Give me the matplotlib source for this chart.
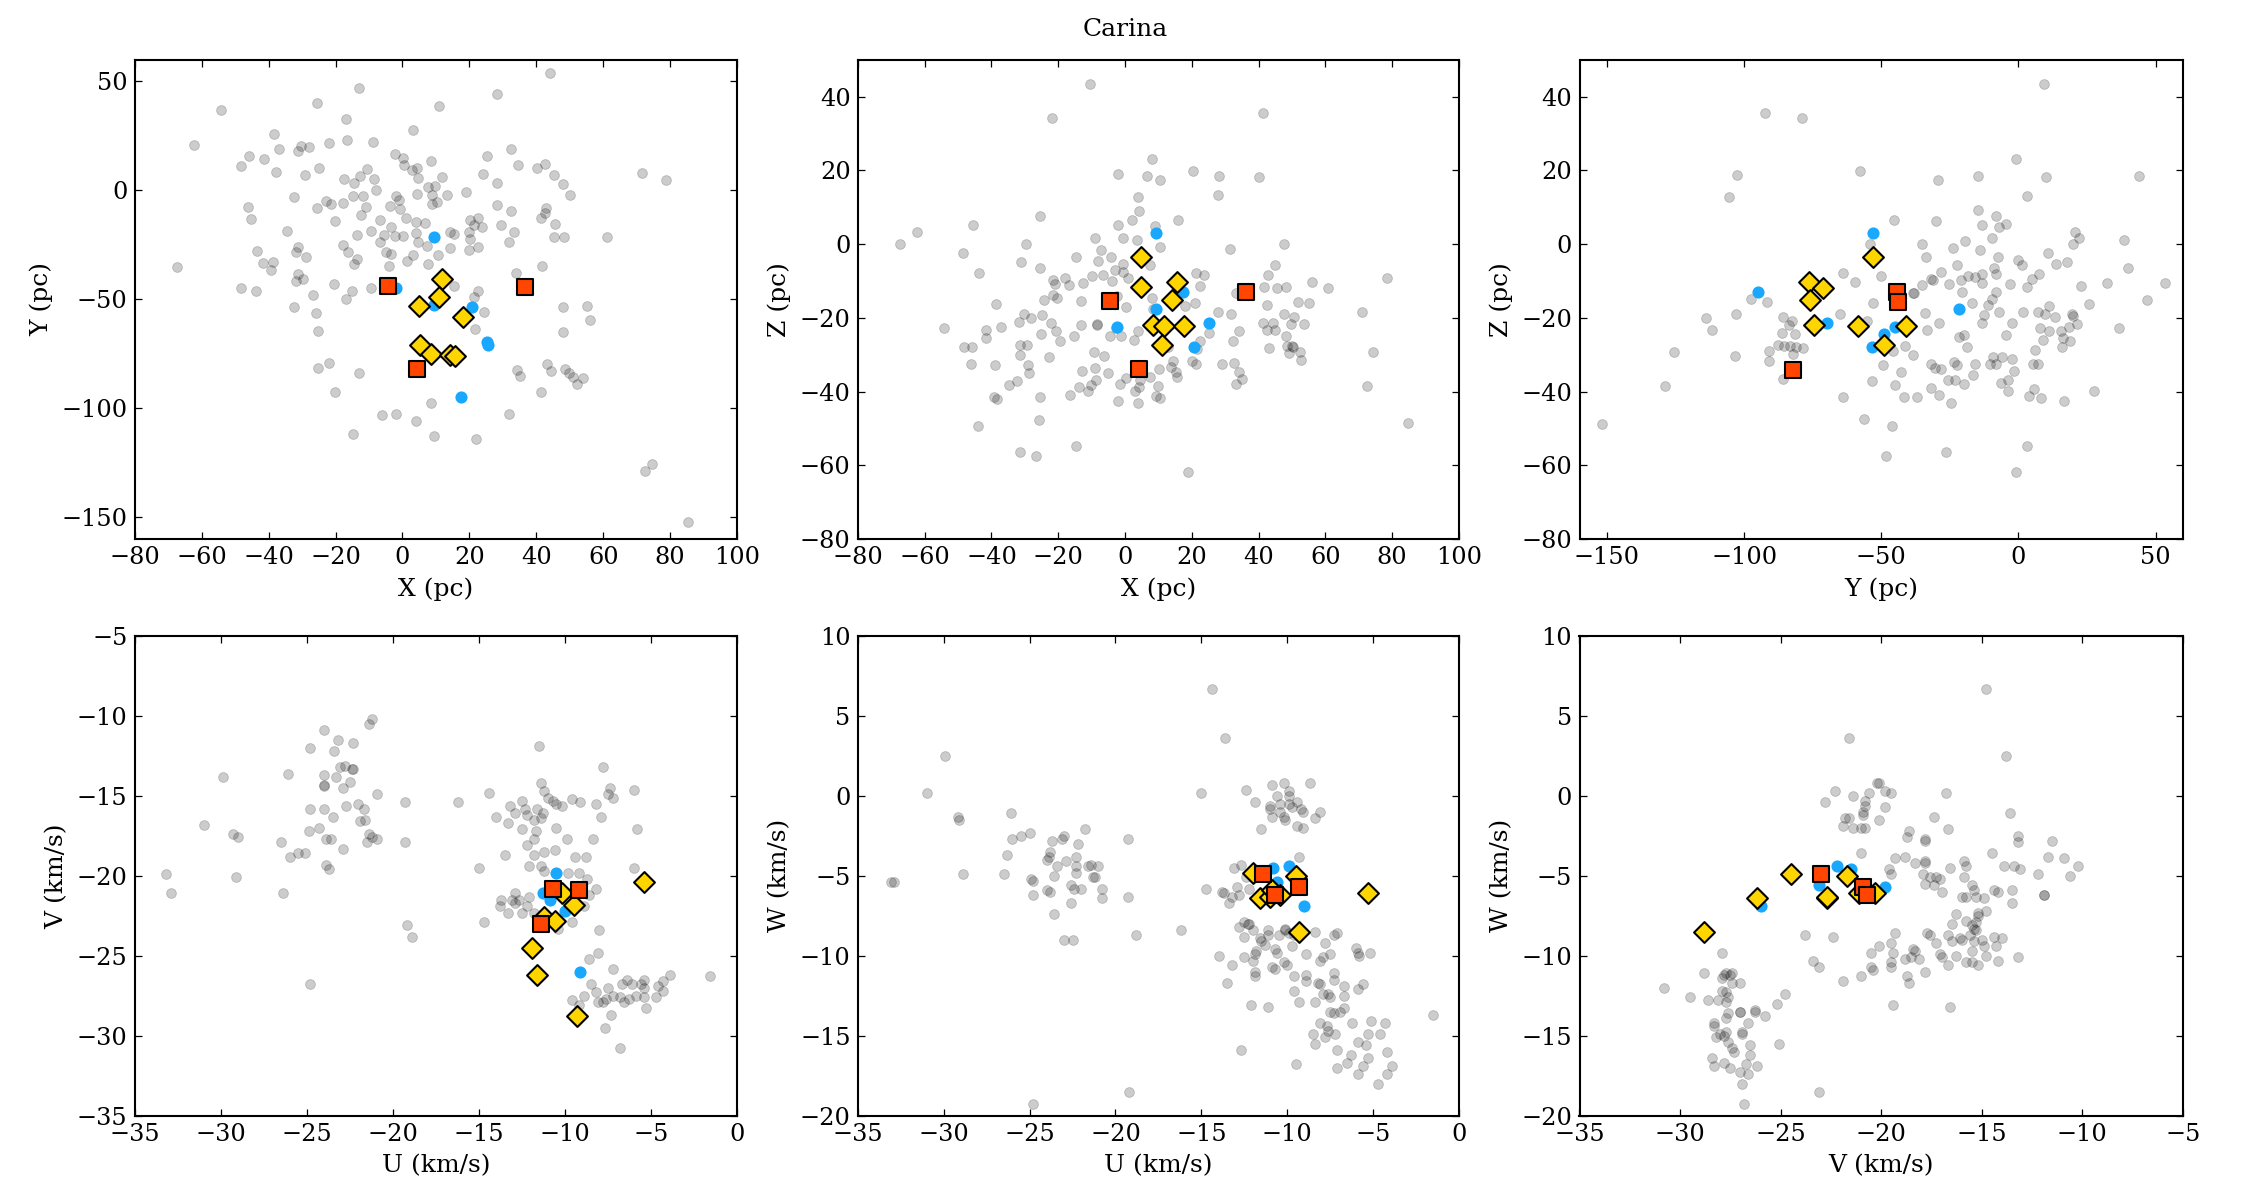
import matplotlib
matplotlib.use("Agg")
import matplotlib.pyplot as plt

plt.rcParams["font.family"] = ["DejaVu Serif"]
plt.rcParams["font.size"] = 12

title = "Carina"

# gray field stars, one list of (x, y) per panel
gray_xy = [(44.1, 53.8), (-12.9, 47.2), (28.3, 44.1), (-54.3, 36.9), (10.8, 38.5), (-25.4, 40.3), (-16.8, 32.8), (3.0, 27.7), (-38.3, 26.1), (-16.7, 23.1),
           (-62.3, 20.8), (-30.4, 20.2), (-28.0, 19.8), (-22.0, 21.6), (-8.9, 22.1), (-37.0, 18.9), (-31.3, 17.9), (-46.0, 15.9), (-41.4, 14.6), (-48.3, 11.0),
           (-37.9, 8.4), (-29.1, 7.2), (-24.8, 10.3), (-10.5, 9.8), (-17.5, 5.4), (-12.6, 6.4), (-8.5, 5.1), (-14.5, 3.3), (-7.8, 0.2), (-2.1, 16.7),
           (0.1, 14.8), (0.5, 11.5), (2.8, 9.5), (4.4, 10.3), (4.5, 5.7), (8.6, 13.3), (11.7, 6.2), (7.7, 1.6), (9.6, 2.1), (4.4, -1.5),
           (8.7, -2.0), (13.4, -2.1), (10.3, -5.4), (8.7, -6.4), (19.0, -0.8), (25.3, 15.7), (32.5, 19.0), (24.2, 7.5), (28.1, 3.3), (34.5, 11.5),
           (40.3, 10.3), (42.6, 12.3), (45.2, 6.9), (48.1, 3.1), (50.0, -2.1), (71.5, 8.0), (78.7, 4.6), (28.1, -6.6), (32.5, -9.3), (42.9, -8.0),
           (42.7, -10.3), (41.5, -12.6), (45.6, -15.4), (45.4, -21.6), (48.3, -21.6), (61.0, -21.3), (29.3, -16.1), (33.2, -19.2), (31.8, -23.6), (22.6, -12.8),
           (23.9, -16.9), (20.2, -13.8), (21.4, -15.9), (20.0, -19.2), (20.2, -22.5), (20.0, -27.4), (22.6, -26.1), (15.5, -20.0), (14.3, -18.9), (14.3, -26.6),
           (6.6, -14.8), (4.0, -14.3), (3.9, -19.5), (4.6, -23.6), (7.4, -25.4), (10.5, -29.5), (1.3, -32.3), (3.0, -29.7), (7.6, -33.9), (-1.1, -4.4),
           (-0.7, -8.5), (-3.8, -7.2), (-2.0, -2.8), (1.1, -12.6), (-3.4, -16.7), (0.1, -20.8), (-2.2, -20.8), (-6.7, -13.4), (-9.5, -18.5), (-5.6, -20.3),
           (-6.7, -23.6), (-4.8, -28.2), (-3.4, -29.0), (-3.9, -34.8), (-10.8, -7.7), (-12.4, -11.3), (-11.7, -2.5), (-14.9, -2.5), (-17.7, -5.6), (-21.4, -6.4),
           (-22.9, -4.8), (-25.4, -8.2), (-20.3, -13.9), (-13.7, -20.5), (-17.8, -24.9), (-16.2, -28.2), (-13.7, -31.5), (-14.5, -33.6), (-32.4, -3.1), (-46.2, -7.7),
           (-45.4, -13.1), (-34.6, -18.7), (-31.3, -26.1), (-31.8, -28.4), (-28.7, -30.7), (-43.6, -27.7), (-41.6, -33.1), (-38.7, -32.8), (-39.2, -36.4), (-67.5, -35.2),
           (-31.3, -38.2), (-31.8, -41.8), (-29.7, -40.5), (-20.4, -42.8), (-9.5, -44.8), (-15.0, -46.2), (-17.0, -50.0), (-26.6, -48.2), (-48.3, -44.6), (-43.9, -46.2),
           (-32.3, -53.3), (-25.7, -56.4), (-25.2, -64.3), (22.6, -46.4), (21.4, -48.7), (15.5, -43.8), (33.8, -38.0), (41.7, -34.8), (24.3, -55.7), (21.7, -63.8),
           (47.9, -53.6), (55.2, -53.0), (56.1, -59.5), (48.1, -65.1), (43.1, -79.5), (44.4, -82.8), (34.2, -82.3), (35.1, -85.2), (48.6, -82.0), (49.8, -83.9),
           (50.9, -85.6), (52.1, -88.9), (53.9, -86.0), (41.5, -92.6), (-22.0, -79.0), (-25.1, -81.5), (-13.1, -83.9), (-20.3, -92.3), (8.4, -97.5), (-6.1, -103.3),
           (-2.0, -102.6), (4.1, -105.7), (31.7, -102.6), (-14.8, -111.8), (9.3, -112.8), (21.9, -114.1), (72.5, -129.0), (74.6, -125.7), (85.2, -152.0)]

gray_xz = [(-10.5, 43.3), (-22.0, 34.3), (41.3, 35.6), (8.1, 23.0), (-2.1, 18.9), (6.5, 18.5), (10.4, 17.4), (20.3, 19.9), (28.1, 18.5), (40.0, 18.2),
           (27.7, 13.2), (4.0, 12.8), (4.3, 9.0), (-25.5, 7.7), (2.0, 6.4), (-2.1, 5.2), (15.9, 6.5), (-45.5, 5.1), (-62.2, 3.2), (-67.5, 0.0),
           (-29.6, 0.0), (-48.4, -2.4), (-9.0, 1.6), (-0.5, 1.7), (3.7, 1.0), (10.6, -0.8), (8.9, 4.8), (-7.1, -1.7), (-4.1, -3.4), (-14.8, -3.4),
           (-8.0, -4.6), (-31.3, -5.0), (-25.5, -6.5), (-43.6, -7.8), (-0.5, -5.3), (7.4, -5.8), (-3.0, -7.0), (-0.6, -7.5), (0.9, -9.2), (-10.0, -8.7),
           (-6.7, -8.4), (-3.8, -10.0), (-21.5, -9.7), (-20.9, -10.8), (-17.9, -9.2), (-16.8, -11.1), (-12.6, -10.6), (-21.7, -13.8), (-20.5, -14.6), (-24.4, -15.2),
           (-13.1, -15.4), (-38.6, -16.2), (0.3, -17.1), (8.1, -14.7), (23.7, -8.4), (22.4, -11.4), (21.1, -16.1), (27.9, -18.3), (31.6, -18.9), (33.2, -13.3),
           (42.7, -8.4), (45.0, -5.8), (47.7, 0.0), (41.6, -11.6), (45.5, -11.9), (48.1, -11.6), (42.6, -16.6), (51.8, -15.8), (55.0, -16.1), (56.0, -10.3),
           (60.8, -11.9), (78.4, -9.1), (71.1, -18.5), (47.7, -19.1), (50.7, -19.8), (41.3, -21.3), (44.4, -21.3), (42.4, -23.4), (45.0, -23.2), (49.7, -21.6),
           (53.6, -21.8), (48.1, -25.0), (48.5, -27.6), (49.9, -27.6), (50.4, -27.8), (49.0, -29.5), (52.3, -29.2), (52.8, -31.4), (43.1, -28.3), (74.4, -29.3),
           (34.2, -23.5), (32.2, -26.3), (32.5, -32.2), (29.0, -32.6), (34.2, -34.8), (34.9, -36.6), (33.2, -38.0), (72.4, -38.5), (84.9, -48.6), (22.4, -26.3),
           (21.6, -28.5), (20.1, -31.6), (21.3, -32.6), (13.0, -28.0), (14.5, -31.6), (15.3, -34.8), (15.5, -36.1), (13.7, -33.4), (10.3, -34.0), (2.7, -26.1),
           (3.9, -23.7), (-1.2, -24.9), (-4.4, -24.9), (-2.6, -22.7), (-8.5, -22.0), (-9.4, -29.3), (-6.3, -30.5), (-9.0, -33.7), (-12.8, -34.4), (-5.0, -35.1),
           (-8.7, -36.8), (-10.2, -38.2), (-13.8, -38.7), (-11.1, -39.8), (-16.4, -40.9), (-1.4, -37.9), (-2.2, -42.6), (0.4, -36.3), (3.1, -39.8), (4.3, -38.7),
           (3.9, -43.0), (7.4, -36.1), (9.8, -38.6), (9.2, -41.1), (10.4, -41.8), (4.7, -34.1), (4.5, -36.8), (-14.8, -54.9), (18.9, -61.7), (-31.4, -56.4),
           (-26.6, -57.6), (-25.9, -47.6), (-44.0, -49.4), (-25.4, -41.4), (-39.2, -41.6), (-38.3, -41.9), (-34.8, -38.2), (-32.5, -37.2), (-28.8, -35.0), (-29.2, -32.9),
           (-38.8, -32.7), (-46.0, -32.5), (-48.3, -27.9), (-45.9, -28.0), (-31.6, -27.4), (-31.4, -30.2), (-29.4, -27.4), (-41.6, -23.4), (-41.6, -25.4), (-37.2, -22.4),
           (-54.2, -22.8), (-31.8, -21.1), (-30.2, -19.0), (-28.2, -20.1), (-24.9, -19.3), (-25.3, -24.4), (-22.9, -30.7), (-22.1, -21.3), (-20.7, -23.7), (-19.5, -26.3),
           (-15.2, -25.0), (-13.2, -22.0), (-8.3, -21.8), (-2.5, -14.0), (-4.7, -15.3), (8.3, -17.7), (18.1, -16.9), (25.1, -24.2), (31.4, -1.4), (21.3, -7.9)]

gray_yz = [(9.5, 43.3), (-92.5, 35.6), (-79.0, 34.3), (-102.5, 18.7), (-57.8, 19.8), (-29.4, 17.3), (-14.8, 18.5), (-1.0, 23.0), (10.0, 18.2), (43.8, 18.4),
           (-105.5, 12.7), (3.0, 13.1), (-45.2, 6.5), (-30.1, 6.3), (-14.9, 9.1), (-8.3, 7.7), (-13.4, 5.1), (-6.9, 4.6), (-4.6, 5.3), (-9.7, 1.6),
           (-19.5, 0.8), (-14.0, -1.6), (-35.3, -0.1), (-33.5, -3.4), (-23.7, -1.2), (20.6, 3.2), (20.0, 0.0), (22.2, 1.5), (10.7, -2.4), (13.7, -5.3),
           (17.9, -5.0), (1.2, -5.7), (-0.1, -4.4), (-7.3, -3.4), (-8.8, -6.6), (-8.0, -8.2), (-3.1, -10.8), (5.1, -9.4), (7.6, -8.0), (3.0, -11.6),
           (32.3, -10.6), (38.5, 1.0), (40.1, -6.6), (53.5, -10.6), (46.8, -15.3), (25.9, -16.2), (23.0, -11.3), (7.2, -18.4), (9.8, -19.1), (13.3, -19.8),
           (11.3, -16.9), (19.7, -18.9), (21.5, -21.6), (18.3, -22.5), (20.0, -19.6), (36.7, -22.7), (1.6, -18.4), (-2.4, -21.3), (-6.9, -18.4), (-12.5, -19.3),
           (-13.3, -21.3), (-8.0, -13.1), (-9.5, -15.0), (-11.0, -16.4), (-17.0, -16.0), (-20.4, -12.9), (-18.2, -8.6), (-21.0, -9.7), (-15.8, -9.0), (-13.3, -10.6),
           (-13.1, -8.0), (-22.2, -5.8), (-25.3, -10.8), (-28.2, -7.7), (-31.9, -9.5), (-31.2, -9.8), (-35.3, -11.1), (-38.3, -13.4), (-28.8, -21.3), (-33.4, -23.4),
           (-34.1, -18.7), (7.9, -22.7), (11.3, -23.7), (9.1, -26.1), (15.5, -23.5), (16.1, -25.4), (18.8, -26.3), (15.8, -28.0), (-4.5, -24.7), (-21.8, -25.2),
           (-20.0, -24.7), (-18.9, -28.0), (6.0, -28.8), (-9.4, -30.7), (-5.8, -30.7), (-2.4, -31.2), (-15.8, -32.4), (-23.5, -31.9), (-22.2, -32.9), (-31.9, -32.4),
           (-30.4, -33.7), (-28.2, -33.8), (-25.6, -36.8), (-23.2, -36.8), (-20.0, -38.0), (-16.7, -35.5), (-1.6, -34.5), (-3.6, -36.8), (-6.3, -37.7), (-10.3, -32.4),
           (-8.0, -32.4), (5.4, -32.6), (7.2, -32.6), (5.8, -39.2), (4.0, -41.3), (8.2, -41.8), (-3.7, -39.8), (16.7, -42.6), (27.6, -39.9), (-31.9, -39.0),
           (-28.9, -40.9), (-24.4, -43.0), (-36.8, -41.4), (-41.6, -41.6), (-44.9, -38.2), (-42.8, -34.6), (-53.4, -37.2), (-49.3, -32.7), (-38.5, -30.2), (-41.3, -27.6),
           (-45.7, -29.0), (-64.1, -41.4), (-56.3, -47.5), (-46.2, -49.4), (-48.4, -57.6), (-26.5, -56.4), (-0.9, -61.7), (3.3, -54.9), (-151.7, -48.7), (-128.9, -38.5),
           (-125.6, -29.3), (-103.4, -30.5), (-90.8, -31.6), (-85.7, -36.5), (-113.9, -20.1), (-111.8, -23.3), (-102.8, -18.9), (-97.5, -14.8), (-91.8, -15.6), (-85.8, -19.8),
           (-83.8, -21.9), (-82.6, -20.8), (-86.0, -24.2), (-81.5, -24.5), (-87.8, -27.3), (-85.6, -27.6), (-83.3, -27.6), (-81.1, -27.9), (-90.8, -29.0), (-82.1, -29.7),
           (-78.5, -28.2), (-65.1, -19.1), (-63.9, -7.9), (-59.5, -10.3), (-49.9, -8.8), (-52.9, -16.0), (-54.2, 0.1), (-55.3, -20.8), (-40.1, -21.8), (-37.9, -13.3)]

gray_uv = [(-21.2, -10.2), (-21.4, -10.5), (-24.0, -10.9), (-23.2, -11.5), (-23.4, -12.2), (-22.3, -11.7), (-24.8, -12.0), (-11.5, -11.9), (-26.1, -13.6), (-29.9, -13.8),
           (-22.8, -13.1), (-23.1, -13.2), (-22.4, -13.3), (-22.3, -13.3), (-24.0, -13.7), (-22.5, -14.1), (-24.0, -14.3), (-24.0, -14.4), (-23.3, -13.8), (-22.9, -14.5),
           (-20.9, -14.9), (-24.8, -15.8), (-24.0, -15.8), (-22.7, -15.6), (-22.0, -15.5), (-21.7, -15.8), (-23.5, -16.3), (-19.3, -15.4), (-16.2, -15.4), (-14.4, -14.8),
           (-7.8, -13.2), (-7.4, -14.5), (-7.2, -15.1), (-7.5, -14.9), (-6.0, -14.6), (-8.2, -15.5), (-7.9, -16.3), (-11.4, -14.2), (-11.2, -14.7), (-11.0, -15.1),
           (-10.7, -15.3), (-10.5, -15.5), (-10.2, -15.6), (-9.6, -15.2), (-9.1, -15.4), (-12.5, -15.3), (-13.2, -15.6), (-12.3, -15.8), (-12.2, -16.2), (-11.6, -15.8),
           (-11.3, -16.1), (-11.4, -16.4), (-12.9, -16.1), (-14.0, -16.3), (-10.5, -17.0), (-11.8, -16.5), (-11.7, -17.2), (-13.3, -16.7), (-12.5, -17.1), (-5.8, -17.1),
           (-9.9, -17.7), (-8.4, -17.7), (-12.2, -18.1), (-11.8, -17.7), (-13.5, -18.7), (-11.8, -18.7), (-11.2, -18.5), (-10.6, -18.4), (-9.4, -18.8), (-8.8, -18.8),
           (-12.1, -19.4), (-15.0, -19.5), (-6.0, -19.5), (-11.4, -19.4), (-11.2, -19.7), (-9.8, -19.8), (-9.2, -19.8), (-8.7, -20.2), (-8.2, -20.8), (-8.6, -21.2),
           (-12.9, -21.1), (-12.1, -21.3), (-13.7, -21.5), (-13.8, -21.9), (-13.1, -21.5), (-12.9, -21.7), (-12.7, -21.5), (-13.3, -22.3), (-12.5, -22.3), (-12.2, -21.9),
           (-11.8, -22.3), (-8.9, -21.9), (-9.6, -22.9), (-14.7, -22.9), (-10.4, -23.3), (-8.0, -23.4), (-8.1, -24.8), (-8.6, -25.2), (-7.2, -25.8), (-8.5, -26.8),
           (-8.9, -27.5), (-9.6, -27.8), (-9.2, -28.1), (-8.2, -27.3), (-8.1, -27.9), (-7.8, -27.9), (-7.6, -27.7), (-7.5, -27.0), (-7.2, -27.5), (-6.8, -27.6),
           (-6.6, -27.9), (-6.3, -27.7), (-6.7, -26.8), (-6.4, -26.5), (-6.1, -26.8), (-5.6, -26.8), (-5.4, -26.5), (-5.4, -27.0), (-5.9, -27.5), (-5.4, -27.6),
           (-4.7, -27.6), (-4.6, -26.9), (-4.3, -27.2), (-4.3, -26.6), (-3.9, -26.2), (-1.6, -26.3), (-5.3, -28.3), (-7.3, -28.7), (-7.7, -29.5), (-6.8, -30.8),
           (-19.2, -23.1), (-18.9, -23.8), (-24.8, -26.8), (-31.0, -16.8), (-29.3, -17.4), (-29.0, -17.6), (-33.2, -19.9), (-32.9, -21.1), (-29.1, -20.1), (-26.4, -21.1),
           (-26.5, -17.9), (-26.0, -18.8), (-25.5, -18.6), (-25.1, -18.6), (-24.9, -17.2), (-24.3, -17.0), (-23.9, -17.7), (-23.6, -17.7), (-22.9, -18.3), (-23.9, -19.3),
           (-23.7, -19.6), (-21.9, -16.6), (-21.6, -16.5), (-21.4, -17.4), (-21.2, -17.6), (-20.9, -17.7), (-21.5, -17.9), (-19.3, -17.9)]

gray_uw = [(-14.4, 6.7), (-13.6, 3.6), (-29.9, 2.5), (-31.0, 0.2), (-15.0, 0.2), (-12.4, 0.4), (-10.9, 0.7), (-10.2, 0.8), (-8.7, 0.8), (-9.9, 0.3),
           (-9.9, 0.0), (-10.6, 0.0), (-10.4, -0.5), (-11.9, -0.4), (-11.0, -0.6), (-11.0, -0.8), (-9.9, -0.5), (-9.7, -0.7), (-9.4, -0.4), (-9.2, -0.8),
           (-9.1, -1.0), (-10.4, -1.0), (-10.2, -1.3), (-10.1, -1.5), (-8.1, -1.0), (-8.4, -1.4), (-10.9, -1.3), (-9.4, -1.9), (-9.1, -2.0), (-11.5, -2.1),
           (-9.3, -3.8), (-29.2, -1.3), (-29.1, -1.5), (-26.1, -1.1), (-26.0, -2.7), (-25.5, -2.5), (-25.0, -2.3), (-21.8, -2.1), (-23.7, -2.8), (-23.1, -2.7),
           (-23.0, -2.5), (-22.2, -3.0), (-26.3, -3.7), (-23.9, -3.8), (-24.0, -4.0), (-23.8, -3.5), (-22.9, -4.1), (-22.3, -3.8), (-23.4, -4.4), (-22.3, -4.4),
           (-22.3, -4.8), (-21.6, -4.4), (-21.4, -4.3), (-21.0, -4.4), (-21.3, -5.1), (-21.2, -5.1), (-28.9, -4.9), (-26.5, -4.9), (-33.1, -5.4), (-32.9, -5.4),
           (-24.9, -5.2), (-24.8, -5.3), (-23.6, -5.0), (-22.6, -5.6), (-22.4, -5.8), (-22.0, -5.8), (-20.8, -5.8), (-24.0, -5.9), (-23.8, -6.0), (-24.8, -6.2),
           (-20.8, -6.4), (-22.6, -6.7), (-23.6, -7.4), (-19.3, -2.7), (-19.3, -6.3), (-23.0, -9.0), (-22.5, -9.0), (-18.8, -8.7), (-16.2, -8.4), (-14.7, -5.8),
           (-19.2, -18.5), (-24.8, -19.3), (-1.5, -13.7), (-13.1, -4.5), (-12.7, -4.3), (-13.8, -6.0), (-13.7, -6.1), (-13.4, -6.7), (-13.2, -6.3), (-12.9, -5.7),
           (-12.8, -6.2), (-12.4, -5.1), (-12.2, -5.8), (-14.0, -10.0), (-13.2, -10.6), (-13.5, -11.7), (-12.8, -8.2), (-12.5, -7.9), (-12.3, -8.0), (-12.2, -8.0),
           (-12.5, -8.8), (-12.0, -8.4), (-11.6, -8.9), (-11.5, -9.1), (-11.3, -9.3), (-11.9, -9.9), (-11.8, -9.7), (-12.5, -10.1), (-12.0, -10.3), (-11.1, -8.4),
           (-11.1, -8.7), (-10.7, -9.6), (-10.6, -9.8), (-10.5, -8.7), (-10.1, -8.4), (-10.1, -8.3), (-9.9, -8.6), (-9.6, -8.7), (-9.7, -9.4), (-10.9, -10.7),
           (-10.7, -10.8), (-10.2, -10.4), (-10.0, -10.6), (-11.9, -11.0), (-11.9, -11.3), (-9.6, -11.3), (-8.9, -9.9), (-8.9, -11.2), (-8.9, -11.6), (-8.4, -8.5),
           (-7.8, -9.2), (-8.1, -10.3), (-7.9, -10.1), (-7.5, -9.9), (-7.3, -8.7), (-7.1, -8.6), (-8.2, -11.7), (-8.1, -11.8), (-7.9, -12.4), (-7.6, -12.4),
           (-7.5, -12.6), (-7.3, -11.1), (-7.3, -11.5), (-8.4, -12.9), (-9.3, -12.9), (-9.6, -12.2), (-12.1, -13.1), (-11.1, -13.2), (-7.5, -13.5), (-7.3, -13.6),
           (-6.9, -13.5), (-6.7, -13.3), (-6.7, -12.5), (-6.7, -11.9), (-6.0, -9.5), (-5.9, -9.8), (-5.8, -10.0), (-5.2, -9.8), (-5.6, -11.8), (-5.9, -12.1),
           (-6.2, -14.2), (-8.1, -14.2), (-7.7, -14.4), (-7.6, -14.7), (-8.5, -14.9), (-7.8, -15.1), (-7.2, -14.9), (-8.4, -15.5), (-7.1, -15.9), (-7.1, -17.0),
           (-6.5, -16.7), (-6.3, -16.2), (-5.9, -15.4), (-5.4, -15.6), (-5.3, -14.9), (-5.9, -17.4), (-5.6, -16.9), (-5.3, -16.4), (-5.1, -14.1), (-4.6, -14.9),
           (-4.3, -14.2), (-4.2, -16.0), (-3.9, -16.9), (-4.2, -17.4), (-4.7, -18.0), (-9.5, -16.8), (-12.7, -15.9)]

gray_vw = [(-14.8, 6.7), (-21.6, 3.6), (-13.8, 2.5), (-20.2, 0.8), (-20.1, 0.8), (-22.3, 0.3), (-21.4, 0.0), (-20.6, 0.2), (-19.8, 0.3), (-19.5, 0.2),
           (-22.8, -0.4), (-20.8, -0.3), (-20.8, -0.6), (-20.9, -1.0), (-20.9, -1.2), (-19.8, -0.7), (-16.8, 0.2), (-17.4, -1.3), (-13.6, -1.1), (-21.8, -1.4),
           (-21.6, -1.4), (-21.9, -1.9), (-21.4, -2.0), (-21.0, -2.0), (-20.8, -2.0), (-20.1, -1.5), (-16.7, -2.1), (-18.6, -2.2), (-18.7, -2.6), (-17.8, -2.7),
           (-17.8, -2.8), (-13.2, -2.5), (-13.2, -2.9), (-11.5, -2.8), (-21.0, -3.6), (-19.3, -3.9), (-18.8, -3.8), (-14.5, -3.6), (-18.3, -4.2), (-17.8, -4.1),
           (-17.8, -4.2), (-16.6, -4.5), (-15.9, -4.1), (-15.8, -4.4), (-13.9, -4.4), (-13.4, -4.4), (-13.1, -4.6), (-11.7, -3.8), (-10.9, -3.9), (-10.2, -4.4),
           (-10.6, -5.0), (-12.2, -4.9), (-19.6, -4.6), (-19.5, -4.9), (-17.9, -4.9), (-17.6, -5.1), (-17.3, -5.1), (-17.1, -5.2), (-17.8, -5.5), (-17.4, -5.6),
           (-17.0, -6.0), (-15.9, -5.1), (-15.5, -5.6), (-15.4, -5.9), (-16.0, -6.3), (-15.8, -6.3), (-15.3, -6.3), (-14.9, -6.4), (-14.4, -5.9), (-14.2, -6.0),
           (-13.5, -5.9), (-13.5, -6.7), (-11.9, -6.2), (-11.9, -6.2), (-16.3, -7.4), (-16.5, -8.0), (-15.8, -7.8), (-15.5, -8.1), (-15.3, -7.9), (-15.2, -7.5),
           (-15.4, -8.3), (-15.3, -8.4), (-15.2, -7.3), (-14.8, -7.2), (-16.7, -8.7), (-16.5, -9.1), (-16.1, -8.9), (-16.0, -9.0), (-15.6, -8.7), (-15.5, -9.7),
           (-15.4, -9.1), (-15.0, -9.0), (-14.9, -9.4), (-14.8, -10.0), (-14.4, -8.8), (-14.3, -9.4), (-14.0, -8.9), (-14.2, -10.3), (-13.2, -10.1), (-15.5, -10.4),
           (-15.2, -10.6), (-15.8, -10.4), (-16.3, -10.0), (-17.1, -9.9), (-17.0, -10.1), (-16.7, -10.6), (-17.7, -8.6), (-17.6, -8.7), (-17.3, -9.2), (-18.4, -9.6),
           (-18.3, -9.7), (-18.8, -10.2), (-18.5, -10.1), (-18.1, -10.2), (-18.7, -11.3), (-18.6, -11.7), (-17.8, -11.0), (-19.3, -8.6), (-19.5, -9.2), (-19.4, -9.8),
           (-19.5, -10.4), (-19.5, -10.7), (-20.1, -9.4), (-20.5, -9.8), (-20.5, -10.7), (-20.4, -10.9), (-21.0, -11.3), (-21.9, -11.6), (-22.4, -8.8), (-23.8, -8.7),
           (-23.4, -10.3), (-23.1, -10.7), (-19.4, -13.1), (-16.6, -13.2), (-23.1, -18.5), (-26.8, -19.3), (-30.8, -12.0), (-29.5, -12.6), (-28.8, -11.1), (-28.6, -12.8),
           (-27.9, -9.8), (-27.9, -11.4), (-27.8, -11.2), (-27.7, -11.1), (-27.5, -11.2), (-27.4, -11.1), (-27.9, -12.2), (-27.7, -12.3), (-28.1, -12.8), (-27.7, -12.9),
           (-27.6, -12.6), (-27.0, -11.7), (-27.4, -11.7), (-27.0, -13.5), (-27.0, -13.5), (-26.3, -13.4), (-26.3, -13.5), (-25.8, -13.8), (-24.8, -12.4), (-25.2, -13.0),
           (-27.6, -13.6), (-27.7, -13.9), (-28.3, -14.2), (-28.3, -14.4), (-28.0, -14.9), (-27.8, -15.0), (-27.7, -14.8), (-28.2, -15.1), (-27.6, -15.4), (-27.4, -15.8),
           (-27.3, -16.0), (-26.9, -14.8), (-26.9, -14.9), (-26.6, -14.2), (-26.5, -15.6), (-26.5, -16.2), (-28.4, -16.4), (-28.3, -16.9), (-27.8, -16.7), (-27.5, -17.0),
           (-26.7, -16.8), (-26.6, -17.4), (-26.9, -18.0), (-26.2, -16.9), (-27.0, -17.3), (-25.1, -15.5)]

# blue circles
blue_xy = [(9.3, -21.5), (20.9, -53.3), (25.3, -69.7), (25.7, -70.8), (17.4, -94.6), (-1.8, -44.8), (9.3, -52.8)]
blue_xz = [(9.2, 3.1), (17.5, -13.1), (9.2, -17.6), (-2.5, -22.5), (25.1, -21.5), (20.7, -27.9)]
blue_yz = [(-52.9, 3.1), (-94.8, -13.1), (-21.8, -17.5), (-69.9, -21.5), (-49.0, -24.4), (-45.0, -22.6), (-53.4, -28.0)]
blue_uv = [(-10.5, -19.8), (-11.3, -21.1), (-10.9, -21.5), (-10.0, -22.2), (-9.1, -26.0)]
blue_uw = [(-10.8, -4.5), (-9.9, -4.4), (-10.6, -5.4), (-9.0, -6.9)]
blue_vw = [(-22.2, -4.4), (-21.5, -4.6), (-23.1, -5.6), (-19.8, -5.7), (-26.0, -6.9)]

# yellow diamonds
yel_xy = [(11.8, -40.7), (11.0, -48.7), (5.0, -53.0), (18.0, -58.0), (5.2, -71.1), (8.6, -74.9), (14.1, -75.7), (15.7, -76.2)]
yel_xz = [(4.7, -3.4), (4.8, -11.6), (15.6, -10.3), (14.2, -15.3), (8.4, -22.0), (11.8, -22.2), (17.8, -22.2), (11.0, -27.4)]
yel_yz = [(-53.1, -3.4), (-76.3, -10.3), (-71.2, -11.8), (-75.9, -15.3), (-74.5, -21.9), (-58.4, -22.3), (-40.8, -22.2), (-48.9, -27.3)]
yel_uv = [(-5.4, -20.4), (-10.2, -21.1), (-9.5, -21.8), (-11.2, -22.6), (-10.6, -22.8), (-11.9, -24.5), (-11.6, -26.2), (-9.3, -28.8)]
yel_uw = [(-12.0, -4.8), (-9.5, -5.0), (-5.3, -6.1), (-11.6, -6.4), (-11.0, -6.3), (-10.4, -6.2), (-9.3, -8.5), (-10.9, -5.9)]
yel_vw = [(-24.5, -4.9), (-21.7, -5.0), (-26.2, -6.4), (-22.7, -6.4), (-22.7, -6.3), (-21.1, -6.1), (-20.3, -6.1), (-28.8, -8.5)]

# red squares
red_xy = [(-4.3, -44.1), (36.5, -44.4), (4.3, -82.0)]
red_xz = [(-4.4, -15.4), (36.1, -13.0), (4.1, -34.0)]
red_yz = [(-44.4, -13.0), (-44.0, -15.8), (-82.1, -34.1)]
red_uv = [(-10.7, -20.8), (-9.2, -20.9), (-11.4, -23.0)]
red_uw = [(-11.4, -4.9), (-9.3, -5.7), (-10.7, -6.2)]
red_vw = [(-23.0, -4.9), (-20.9, -5.7), (-20.7, -6.2)]

panels = [
    # gray, blue, yellow, red, xlabel, ylabel, xlim, ylim, xticks, yticks
    (gray_xy, blue_xy, yel_xy, red_xy, "X (pc)", "Y (pc)", (-80, 100), (-160, 60),
     range(-80, 101, 20), range(-150, 51, 50)),
    (gray_xz, blue_xz, yel_xz, red_xz, "X (pc)", "Z (pc)", (-80, 100), (-80, 50),
     range(-80, 101, 20), range(-80, 41, 20)),
    (gray_yz, blue_yz, yel_yz, red_yz, "Y (pc)", "Z (pc)", (-160, 60), (-80, 50),
     range(-150, 51, 50), range(-80, 41, 20)),
    (gray_uv, blue_uv, yel_uv, red_uv, "U (km/s)", "V (km/s)", (-35, 0), (-35, -5),
     range(-35, 1, 5), range(-35, -4, 5)),
    (gray_uw, blue_uw, yel_uw, red_uw, "U (km/s)", "W (km/s)", (-35, 0), (-20, 10),
     range(-35, 1, 5), range(-20, 11, 5)),
    (gray_vw, blue_vw, yel_vw, red_vw, "V (km/s)", "W (km/s)", (-35, -5), (-20, 10),
     range(-35, -4, 5), range(-20, 11, 5)),
]

lefts = [0.0599, 0.3813, 0.7020]
widths = [0.2677, 0.2671, 0.2682]
bottoms = [0.5508, 0.0704]
height = 0.3995

fig = plt.figure(figsize=(15, 8), dpi=150)

for i, (gray, blue, yel, red, xl, yl, xlim, ylim, xt, yt) in enumerate(panels):
    row, col = divmod(i, 3)
    ax = fig.add_axes([lefts[col], bottoms[row], widths[col], height])

    gx, gy = zip(*gray)
    ax.scatter(gx, gy, s=22, c="k", alpha=0.2, linewidths=0.4, edgecolors="k", zorder=2)
    bx, by = zip(*blue)
    ax.scatter(bx, by, s=34, c="#1aa8ff", linewidths=0, zorder=3)
    yx, yy = zip(*yel)
    ax.scatter(yx, yy, s=50, marker="D", c="#ffd500", edgecolors="k", linewidths=1.0, zorder=4)
    rx, ry = zip(*red)
    ax.scatter(rx, ry, s=62, marker="s", c="#ff4500", edgecolors="k", linewidths=1.0, zorder=5)

    ax.set_xlim(*xlim)
    ax.set_ylim(*ylim)
    ax.set_xticks(list(xt))
    ax.set_yticks(list(yt))
    ax.set_xlabel(xl, fontsize=12)
    ax.set_ylabel(yl, fontsize=12)
    ax.tick_params(direction="in", top=True, right=True, length=3.5, width=0.6, labelsize=11.5)
    for sp in ax.spines.values():
        sp.set_linewidth(1.0)

fig.suptitle(title, fontsize=12, y=0.985)

fig.savefig("out.png", dpi=150)
